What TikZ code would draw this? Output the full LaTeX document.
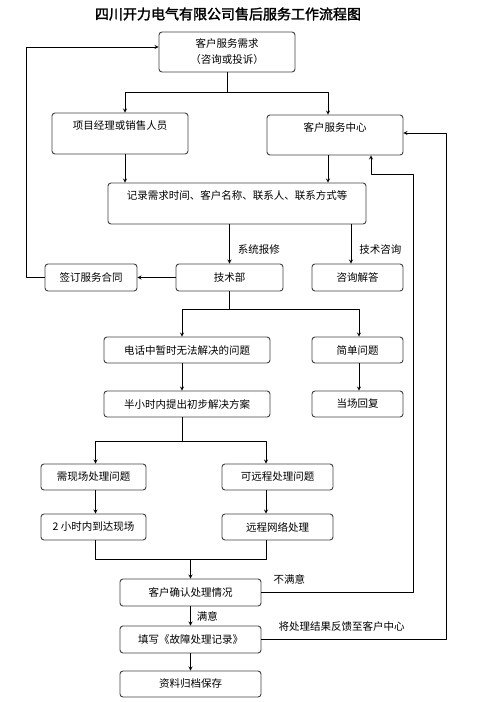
\documentclass[tikz,border=0pt]{standalone}
\usepackage{fontspec}
\setmainfont[AutoFakeBold=2]{Noto Sans CJK SC}
\begin{document}
\begin{tikzpicture}[x=1pt, y=-1pt, >=stealth, line join=round,
  box/.style={draw=black!75, line width=0.9pt, rounded corners=3pt, inner sep=0pt,
    font=\fontsize{10.5}{16}\selectfont, align=center},
  lbl/.style={font=\fontsize{10.5}{13}\selectfont, inner sep=0pt},
  conn/.style={line width=0.8pt}]
\useasboundingbox (0,0) rectangle (477,702);
\node[font=\fontsize{14}{16}\selectfont\bfseries] (title) at (228,14) {四川开力电气有限公司售后服务工作流程图};
% boxes
\node[box, minimum width=136, minimum height=40] (need) at (227,52) {客户服务需求\\（咨询或投诉）};
\node[box, minimum width=136, minimum height=41] (pm) at (120,133.5) {项目经理或销售人员\\\mbox{}};
\node[box, minimum width=136, minimum height=40] (csc) at (335,135) {客户服务中心\\\mbox{}};
\node[box, minimum width=258, minimum height=41] (rec) at (237,203.5) {记录需求时间、客户名称、联系人、联系方式等\\\mbox{}};
\node[box, minimum width=107, minimum height=27] (tech) at (229.5,277.5) {技术部};
\node[box, minimum width=91, minimum height=27] (consult) at (357.5,277.5) {咨询解答};
\node[box, minimum width=92, minimum height=27] (contract) at (91,277.5) {签订服务合同};
\node[box, minimum width=166, minimum height=26] (phone) at (187,350) {电话中暂时无法解决的问题};
\node[box, minimum width=91, minimum height=26] (simple) at (357.5,350) {简单问题};
\node[box, minimum width=166, minimum height=26] (plan) at (187,404) {半小时内提出初步解决方案};
\node[box, minimum width=91, minimum height=26] (reply) at (357.5,404) {当场回复};
\node[box, minimum width=105, minimum height=26] (onsite) at (93.5,477) {需现场处理问题};
\node[box, minimum width=111, minimum height=26] (remote) at (277.5,477) {可远程处理问题};
\node[box, minimum width=105, minimum height=26] (arrive) at (93.5,527) {2 小时内到达现场};
\node[box, minimum width=111, minimum height=26] (network) at (277.5,527) {远程网络处理};
\node[box, minimum width=141, minimum height=27] (confirm) at (190.5,592.5) {客户确认处理情况};
\node[box, minimum width=141, minimum height=27] (fill) at (190.5,639.5) {填写《故障处理记录》};
\node[box, minimum width=141, minimum height=26] (archive) at (190.5,684) {资料归档保存};
% connectors
\draw[conn] (need.south) -- ++(0,20) coordinate (j1);
\draw[conn,->] (j1) -| ([xshift=5pt]pm.north);
\draw[conn,->] (j1) -| ([xshift=-7pt]csc.north);
\draw[conn,->] ([xshift=5pt]pm.south) -- ([xshift=5pt]pm.south |- rec.north);
\draw[conn,->] ([xshift=-7pt]csc.south) -- ([xshift=-7pt]csc.south |- rec.north);
\draw[conn,->] (tech.north |- rec.south) -- (tech.north)
  node[lbl, right=8pt, pos=0.65] (lrepair) {系统报修};
\draw[conn,->] ([xshift=-6.5pt]consult.north |- rec.south) -- ([xshift=-6.5pt]consult.north)
  node[lbl, right=8pt, pos=0.65] (lask) {技术咨询};
\draw[conn,->] (tech.west) -- (contract.east);
\draw[conn,->] (contract.west) -- ++(-18,0) |- ([yshift=5pt]need.west);
\draw[conn] (tech.south) -- ++(0,18) coordinate (j2);
\draw[conn,->] (j2) -| ([xshift=-5pt]phone.north);
\draw[conn,->] (j2) -| ([xshift=1.5pt]simple.north);
\draw[conn,->] ([xshift=-5pt]phone.south) -- ([xshift=-5pt]plan.north);
\draw[conn,->] ([xshift=1.5pt]simple.south) -- ([xshift=1.5pt]reply.north);
\draw[conn] ([xshift=-5pt]plan.south) -- ++(0,24) coordinate (j3);
\draw[conn,->] (j3) -| ([xshift=2pt]onsite.north);
\draw[conn,->] (j3) -| ([xshift=-11.5pt]remote.north);
\draw[conn,->] ([xshift=2pt]onsite.south) -- ([xshift=2pt]arrive.north);
\draw[conn,->] ([xshift=-11.5pt]remote.south) -- ([xshift=-11.5pt]network.north);
\draw[conn] ([xshift=2pt]arrive.south) -- ++(0,19) coordinate (j4) -| ([xshift=-11.5pt]network.south);
\draw[conn,->] (confirm.north |- j4) -- (confirm.north);
\draw[conn,->] (confirm.south) -- (fill.north)
  node[lbl, right=6pt, pos=0.5] (lok) {满意};
\draw[conn,->] (fill.south) -- (archive.north);
\draw[conn,->] (confirm.east) -| (413,174) -| ([xshift=36pt]csc.south);
\node[lbl, anchor=south west] (lnotok) at ([xshift=12pt,yshift=7.5pt]confirm.east) {不满意};
\draw[conn,->] (fill.east) -| (446,133) -- ([yshift=2pt]csc.east);
\node[lbl, anchor=south west] (lfeed) at ([xshift=17pt,yshift=8pt]fill.east) {将处理结果反馈至客户中心};
\end{tikzpicture}
\end{document}
